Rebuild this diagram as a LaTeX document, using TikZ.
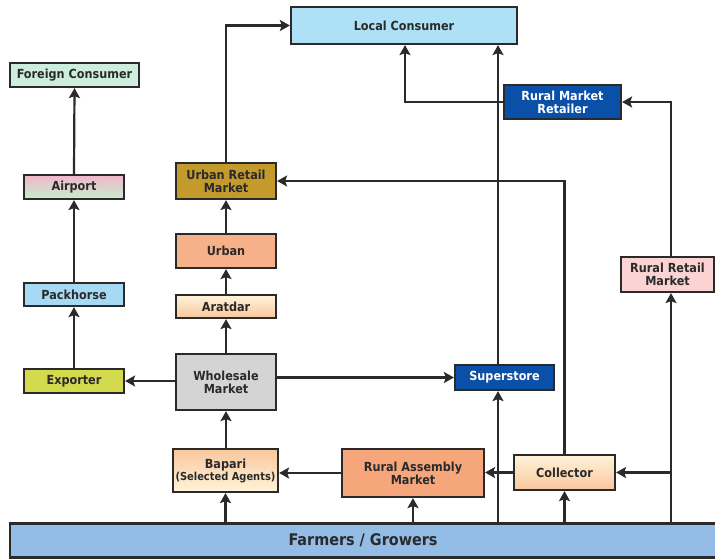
\documentclass[tikz,border=0pt]{standalone}
\usepackage{fontspec}
\setmainfont{DejaVu Sans Condensed}
\usetikzlibrary{arrows.meta,shapes.geometric}
\definecolor{bordc}{HTML}{2A2A2A}
\definecolor{lcblue}{HTML}{AEE0F6}
\definecolor{mint}{HTML}{CDEEDC}
\definecolor{apink}{HTML}{F2B6CC}
\definecolor{agreen}{HTML}{C6EDCB}
\definecolor{pkblue}{HTML}{A6D9F4}
\definecolor{exyel}{HTML}{D3DA4E}
\definecolor{mustard}{HTML}{C49A2C}
\definecolor{salmon}{HTML}{F6B08A}
\definecolor{salmon2}{HTML}{F5A77B}
\definecolor{paleyel}{HTML}{FFF3DA}
\definecolor{peach}{HTML}{F9C79C}
\definecolor{wgray}{HTML}{D4D4D4}
\definecolor{dblue}{HTML}{0A50A8}
\definecolor{rpink}{HTML}{FBD3D3}
\definecolor{farmblue}{HTML}{93BDE6}
\definecolor{txt}{HTML}{2A2A2A}
\tikzset{
  box/.style={draw=bordc, line width=2.2pt, font=\bfseries\fontsize{12.5}{13}\selectfont, text=txt, align=center, inner sep=1pt},
  bluebox/.style={box, fill=dblue, text=white},
  arr/.style={draw=bordc, line width=2.2pt, -{Stealth[length=10pt,width=11pt,inset=2pt]}},
}
\begin{document}
\begin{tikzpicture}[x=1pt,y=-1pt]
\useasboundingbox[fill=white] (0,0) rectangle (715,558);
% nodes
\node[box, fill=lcblue, minimum width=226, minimum height=37] (lc) at (404,25.5) {Local Consumer};
\node[box, fill=mint, minimum width=129, minimum height=24] (fc) at (74.5,75) {Foreign Consumer};
\node[box, top color=apink, bottom color=agreen, minimum width=100, minimum height=24] (ap) at (74,187) {Airport};
\node[box, fill=pkblue, minimum width=100, minimum height=23] (pk) at (74,294.5) {Packhorse};
\node[box, fill=exyel, minimum width=100, minimum height=24] (ex) at (74,381) {Exporter};
\node[box, fill=mustard, minimum width=100, minimum height=36] (urm) at (226,181) {Urban Retail\\Market};
\node[box, fill=salmon, minimum width=100, minimum height=34] (ur) at (226,251) {Urban};
\node[box, top color=paleyel, bottom color=peach, minimum width=100, minimum height=23] (ar) at (226,306.5) {Aratdar};
\node[box, fill=wgray, minimum width=100, minimum height=56] (wm) at (226,382) {Wholesale\\Market};
\node[bluebox, minimum width=99, minimum height=25] (ss) at (504.5,377.5) {Superstore};
\node[bluebox, minimum width=117, minimum height=34] (rmr) at (562.5,102) {Rural Market\\Retailer};
\node[box, fill=rpink, minimum width=93, minimum height=35] (rrm) at (667.5,274.5) {Rural Retail\\Market};
\node[box, top color=peach, bottom color=paleyel, minimum width=105, minimum height=43] (bp) at (225.5,470.5) {Bapari\\[-1pt]{\fontsize{11}{12}\selectfont (Selected Agents)}};
\node[box, fill=salmon2, minimum width=142, minimum height=48] (ram) at (413,473) {Rural Assembly\\Market};
\node[box, top color=paleyel, bottom color=peach, minimum width=101, minimum height=35] (col) at (564.5,472.5) {Collector};
\node[draw=bordc, line width=2.2pt, fill=farmblue, minimum width=712, minimum height=34, inner sep=0pt, text=txt, font=\bfseries\fontsize{16}{18}\selectfont] (farm) at (366,540.5) {\hspace*{-6pt}Farmers / Growers};
% helper coordinates
\coordinate (sx) at (498,0);
\coordinate (lx) at (405,0);
\coordinate (rx) at (671,0);
% connectors
\draw[arr] (ap.north) -- (fc.south);
\draw[arr] (pk.north) -- (ap.south);
\draw[arr] (ex.north) -- (pk.south);
\draw[arr] (wm.west |- ex.east) -- (ex.east);
\draw[arr] (wm.east |- ss.west) -- (ss.west);
\draw[arr] (wm.north) -- (ar.south);
\draw[arr] (ar.north) -- (ur.south);
\draw[arr] (ur.north) -- (urm.south);
\draw[arr] (urm.north) |- (lc.west);
\draw[arr] (bp.north -| wm.south) -- (wm.south);
\draw[arr] (farm.north -| bp.south) -- (bp.south);
\draw[arr] (farm.north -| ram.south) -- (ram.south);
\draw[arr] (ram.west) -- (bp.east |- ram.west);
\draw[arr] (col.west) -- (ram.east |- col.west);
\draw[arr] (farm.north -| col.south) -- (col.south);
\draw[arr] (col.north) |- (urm.east);
\draw[arr] (farm.north -| sx) -- (ss.south -| sx);
\draw[arr] (ss.north -| sx) -- (lc.south -| sx);
\draw[arr] (rmr.west) -- (rmr.west -| lx) -- (lc.south -| lx);
\draw[arr] (farm.north -| rx) -- (rrm.south -| rx);
\draw[arr] (rrm.north -| rx) |- (rmr.east);
\draw[arr] (col.east -| rx) -- (col.east);
\end{tikzpicture}
\end{document}
